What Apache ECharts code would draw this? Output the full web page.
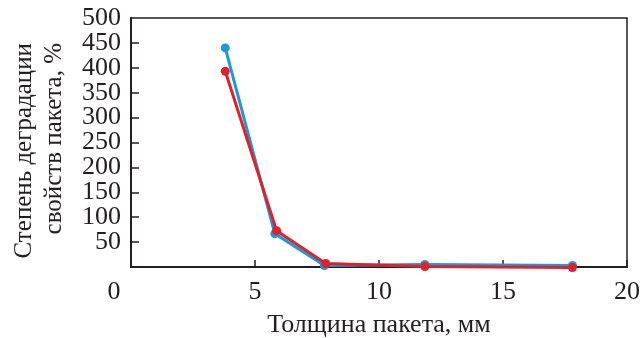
<!DOCTYPE html>
<html>
<head>
<meta charset="utf-8">
<script src="https://cdn.jsdelivr.net/npm/echarts@6/dist/echarts.min.js"></script>
<style>
  html, body { margin: 0; padding: 0; background: #fff; }
  #chart { width: 642px; height: 338px; }
</style>
</head>
<body>
<div id="chart"></div>
<script>
// Package thickness (mm) and degradation of package properties (%)
const blueX = [3.8, 5.8, 7.8, 11.85, 17.8];
const blueY = [440, 67, 3, 5, 3];
const redX = [3.8, 5.87, 7.85, 11.85, 17.8];
const redY = [393, 73, 7, 1, -1];
const xTicks = [0, 5, 10, 15, 20];
const yTicks = [50, 100, 150, 200, 250, 300, 350, 400, 450, 500];

const FONT = '"Liberation Serif", "Times New Roman", serif';
const INK = '#231f20';
const FS = 26;
const Y_MAX = yTicks[yTicks.length - 1];

const pairs = (xs, ys) => xs.map((x, i) => [x, ys[i]]);

const yLabelBase = {
  margin: 10, fontFamily: FONT, fontSize: FS, color: INK
};

const chart = echarts.init(document.getElementById('chart'), null, { renderer: 'canvas' });
chart.setOption({
  animation: false,
  grid: {
    left: 131, right: 15, top: 18, bottom: 71,
    outerBoundsMode: 'none', containLabel: false,
    show: true, borderColor: INK, borderWidth: 1.5, backgroundColor: 'transparent'
  },
  xAxis: {
    type: 'value', min: xTicks[0], max: xTicks[xTicks.length - 1], interval: 5,
    name: 'Толщина пакета, мм', nameLocation: 'middle', nameGap: 45,
    nameTextStyle: { fontFamily: FONT, fontSize: FS, color: INK },
    axisLine: { show: true, lineStyle: { color: INK, width: 2 } },
    axisTick: { show: true, inside: true, length: 7, lineStyle: { color: INK, width: 1.5 } },
    splitLine: { show: false },
    axisLabel: {
      margin: 12, fontFamily: FONT, fontSize: FS, color: INK,
      showMinLabel: true, showMaxLabel: true, hideOverlap: false,
      formatter: v => v === 0 ? '{z|0}' : String(v),
      rich: { z: { fontFamily: FONT, fontSize: FS, color: INK, padding: [0, 34, 0, 0] } }
    }
  },
  yAxis: [
    {
      // main scale: ticks and labels 50 … 450
      type: 'value', position: 'left', min: 0, max: Y_MAX, interval: 50,
      axisLine: { show: true, lineStyle: { color: INK, width: 2 } },
      axisTick: { show: true, inside: true, length: 8, lineStyle: { color: INK, width: 1.5 } },
      splitLine: { show: false },
      axisLabel: Object.assign({}, yLabelBase, {
        showMinLabel: false, showMaxLabel: false,
        formatter: v => (yTicks.includes(v) && v !== Y_MAX) ? String(v) : ''
      })
    },
    {
      // same scale, carries only the top label
      type: 'value', position: 'left', offset: 0, min: 0, max: Y_MAX, interval: 50,
      axisLine: { show: false }, axisTick: { show: false }, splitLine: { show: false },
      axisLabel: Object.assign({}, yLabelBase, {
        showMinLabel: false, showMaxLabel: true,
        formatter: v => v === Y_MAX ? String(v) : ''
      })
    }
  ],
  graphic: [{
    type: 'text', x: 9, y: 43, rotation: Math.PI / 2,
    style: {
      text: 'Степень деградации\nсвойств пакета, %',
      fontFamily: FONT, fontSize: 25, lineHeight: 30, fill: INK,
      align: 'right', verticalAlign: 'top'
    }
  }],
  series: [
    {
      type: 'line', data: pairs(blueX, blueY), clip: false, yAxisIndex: 0,
      symbol: 'circle', symbolSize: 9, color: '#1b9ad7',
      lineStyle: { width: 3, color: '#1b9ad7' }, itemStyle: { color: '#1b9ad7' }
    },
    {
      type: 'line', data: pairs(redX, redY), clip: false, yAxisIndex: 0,
      symbol: 'circle', symbolSize: 9, color: '#e31e2d',
      lineStyle: { width: 3, color: '#e31e2d' }, itemStyle: { color: '#e31e2d' }
    }
  ]
});
</script>
</body>
</html>
